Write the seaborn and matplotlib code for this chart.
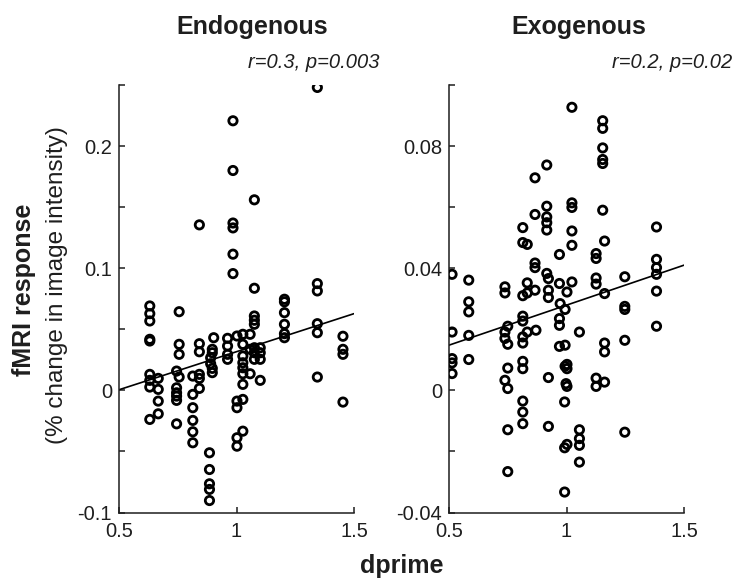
import numpy as np
import pandas as pd
import matplotlib
matplotlib.use("Agg")
import matplotlib.pyplot as plt
import seaborn as sns

# ---------------- data ----------------
endo_x = [1.344, 0.985, 0.985, 1.076, 0.842, 0.985, 0.985, 0.985, 0.985, 1.076, 1.344, 1.344, 1.204,
          0.631, 0.631, 0.631, 0.631, 0.631, 0.631, 0.631, 0.631, 0.631,
          0.667, 0.667, 0.667, 0.667,
          0.745, 0.745, 0.745, 0.745, 0.745, 0.745,
          0.756, 0.756, 0.756, 0.756,
          0.814, 0.814, 0.814, 0.814, 0.814, 0.814,
          0.842, 0.842, 0.842, 0.842, 0.842,
          0.903, 0.897, 0.897, 0.890, 0.890, 0.897, 0.897,
          0.885, 0.885, 0.885, 0.885, 0.885,
          0.962, 0.962, 0.962, 0.962,
          1.002, 1.002, 1.002, 1.002, 1.002,
          1.027, 1.027, 1.027, 1.027, 1.027, 1.027, 1.027, 1.027, 1.027,
          1.058, 1.058, 1.058,
          1.076, 1.076, 1.076, 1.076, 1.076, 1.076,
          1.101, 1.101, 1.101, 1.101,
          1.204, 1.204, 1.204, 1.204, 1.204,
          1.344, 1.344, 1.344,
          1.453, 1.453, 1.453, 1.453]
endo_y = [0.248, 0.2207, 0.180, 0.156, 0.1355, 0.137, 0.133, 0.1115, 0.0956, 0.0836, 0.0874, 0.0814, 0.0746,
          0.0691, 0.0628, 0.0568, 0.0418, 0.0404, 0.0131, 0.0082, 0.0027, -0.0238,
          0.0098, 0.0008, -0.0088, -0.0192,
          0.0158, 0.0021, -0.002, -0.0047, -0.0082, -0.0274,
          0.0644, 0.0377, 0.0295, 0.0109,
          0.0117, -0.0033, -0.0142, -0.0246, -0.0339, -0.0429,
          0.0382, 0.0316, 0.0131, 0.0098, 0.0016,
          0.0431, 0.0336, 0.0308, 0.0267, 0.0218, 0.018, 0.0145,
          -0.0511, -0.0648, -0.0765, -0.0811, -0.0902,
          0.0426, 0.0363, 0.0295, 0.0254,
          0.0445, -0.0088, -0.0142, -0.0388, -0.0457,
          0.0459, 0.0377, 0.0281, 0.0226, 0.0185, 0.0136, 0.0049, -0.0074, -0.0334,
          0.0459, 0.0336, 0.0136,
          0.0609, 0.0574, 0.0541, 0.0349, 0.0308, 0.0254,
          0.0349, 0.0308, 0.0254, 0.0082,
          0.0725, 0.0636, 0.0541, 0.0464, 0.0431,
          0.0546, 0.0472, 0.0109,
          0.0443, 0.0336, 0.0295, -0.0096]

exo_x = [1.023, 1.154, 1.154, 1.154, 1.154, 1.154, 0.916, 0.866, 0.916, 1.023, 1.023, 1.154, 0.866,
         0.916, 0.916, 0.916, 0.814, 1.023, 1.383, 0.814, 0.833, 1.023, 1.162, 0.970, 1.126, 1.126,
         0.866, 0.866, 1.383, 1.383, 1.383, 0.513, 0.584, 0.916, 0.923, 0.970, 1.023, 1.248, 1.126,
         1.126, 0.738, 0.738, 0.833, 0.833, 0.866, 0.923, 1.002, 1.162, 1.383,
         0.814, 0.923, 0.584, 0.584, 0.513, 0.584, 0.513, 0.513, 0.513, 0.584,
         0.750, 0.738, 0.738, 0.750, 0.814, 0.814, 0.814, 0.814, 0.833, 0.870,
         0.973, 0.994, 0.970, 0.970, 1.055, 1.162, 1.162, 1.248, 1.248, 1.248, 1.383,
         0.970, 0.994, 0.750, 0.814, 0.814, 0.923, 0.994, 1.002, 1.002, 0.998, 1.002,
         0.738, 0.750, 1.126, 1.126, 1.162,
         0.814, 0.814, 0.814, 0.750, 0.923, 0.992, 1.248, 1.055, 1.055, 1.055,
         0.992, 1.002, 1.055, 0.750, 0.992]
exo_y = [0.0927, 0.0883, 0.0858, 0.0794, 0.0756, 0.0743, 0.0738, 0.0696, 0.0603, 0.0614, 0.0599, 0.059, 0.0576,
         0.0568, 0.0549, 0.0525, 0.0533, 0.0522, 0.0535, 0.0484, 0.0478, 0.0475, 0.0489, 0.0445, 0.0448, 0.0432,
         0.0417, 0.0402, 0.0429, 0.0402, 0.038, 0.038, 0.0361, 0.0383, 0.0366, 0.035, 0.0355, 0.0372, 0.0368,
         0.0348, 0.0339, 0.0319, 0.0352, 0.0319, 0.0328, 0.0328, 0.0322, 0.0317, 0.0325,
         0.031, 0.0304, 0.029, 0.0257, 0.0191, 0.018, 0.0104, 0.009, 0.0055, 0.0101,
         0.021, 0.0191, 0.017, 0.0151, 0.0243, 0.0227, 0.0175, 0.0155, 0.0191, 0.0197,
         0.0284, 0.0265, 0.0235, 0.0213, 0.0191, 0.0155, 0.0126, 0.0275, 0.0265, 0.0164, 0.021,
         0.0144, 0.0148, 0.0073, 0.0095, 0.0071, 0.0042, 0.0079, 0.0085, 0.0071, 0.0022, 0.0013,
         0.0033, 0.0006, 0.004, 0.0013, 0.0027,
         -0.0035, -0.0071, -0.0109, -0.0129, -0.0118, -0.0038, -0.0137, -0.0129, -0.0158, -0.018,
         -0.0188, -0.0177, -0.0235, -0.0266, -0.0333]

# fitted regression lines as drawn in the reference (end points)
fit_x = [0.5, 1.5]
endo_fit_y = [0.0005, 0.0628]
exo_fit_y = [0.0148, 0.0410]

titles = ["Endogenous", "Exogenous"]
stats = ["r=0.3, p=0.003", "r=0.2, p=0.02"]
x_ticks = [0.5, 1.0, 1.5]
x_ticklabels = ["0.5", "1", "1.5"]
endo_yticks = [-0.1, -0.05, 0, 0.05, 0.1, 0.15, 0.2, 0.25]
endo_ylabels = ["-0.1", "", "0", "", "0.1", "", "0.2", ""]
exo_yticks = [-0.04, -0.02, 0, 0.02, 0.04, 0.06, 0.08, 0.1]
exo_ylabels = ["-0.04", "", "0", "", "0.04", "", "0.08", ""]

# ---------------- style ----------------
sns.set_theme(style="white")
plt.rcParams["font.family"] = ["Liberation Sans", "DejaVu Sans"]
ink = "#1e1e1e"

W, H = 736, 579
fig = plt.figure(figsize=(W / 100, H / 100), dpi=100)

def fx(px):
    return px / W

def fy(py):
    return 1 - py / H

ax_top, ax_bot = 85, 512.5
axL = fig.add_axes([fx(119), fy(ax_bot), fx(235), (ax_bot - ax_top) / H])
axR = fig.add_axes([fx(449), fy(ax_bot), fx(235), (ax_bot - ax_top) / H])

panels = [
    (axL, endo_x, endo_y, endo_fit_y, (-0.1, 0.25), endo_yticks, endo_ylabels),
    (axR, exo_x, exo_y, exo_fit_y, (-0.04, 0.1), exo_yticks, exo_ylabels),
]

for ax, xs, ys, fys, ylim, yt, ytl in panels:
    df = pd.DataFrame({"dprime": xs, "resp": ys})
    fit = pd.DataFrame({"dprime": fit_x, "resp": fys})
    sns.lineplot(data=fit, x="dprime", y="resp", ax=ax, color="black",
                 linewidth=1.2, zorder=2)
    sns.scatterplot(data=df, x="dprime", y="resp", ax=ax, marker="o", s=36,
                    facecolor="none", edgecolor="black", linewidth=2.0, zorder=3)
    ax.set_xlim(0.5, 1.5)
    ax.set_ylim(*ylim)
    ax.set_xticks(x_ticks)
    ax.set_xticklabels(x_ticklabels)
    ax.set_yticks(yt)
    ax.set_yticklabels(ytl)
    ax.set_xlabel("")
    ax.set_ylabel("")
    for s in ["top", "right"]:
        ax.spines[s].set_visible(False)
    for s in ["left", "bottom"]:
        ax.spines[s].set_color(ink)
        ax.spines[s].set_linewidth(1.1)
    ax.tick_params(direction="in", length=4, width=1.1, colors=ink,
                   labelsize=14.5, labelcolor=ink, left=True, bottom=True)
    ax.tick_params(axis="x", pad=7)
    ax.tick_params(axis="y", pad=5)
    ax.patch.set_alpha(0)

# titles & annotations
fig.text(fx(252), fy(27), titles[0], ha="center", va="center",
         fontsize=18, fontweight="bold", color=ink)
fig.text(fx(579), fy(27), titles[1], ha="center", va="center",
         fontsize=18, fontweight="bold", color=ink)
fig.text(fx(380), fy(63), stats[0], ha="right", va="center",
         fontsize=14.5, style="italic", color=ink)
fig.text(fx(732), fy(63), stats[1], ha="right", va="center",
         fontsize=14.5, style="italic", color=ink)

fig.text(fx(24), fy(290), "fMRI response", rotation=90, ha="center", va="center",
         fontsize=18, fontweight="bold", color=ink)
fig.text(fx(57), fy(285), "(% change in image intensity)", rotation=90,
         ha="center", va="center", fontsize=17.5, color=ink)
fig.text(fx(401.5), fy(566), "dprime", ha="center", va="center",
         fontsize=18, fontweight="bold", color=ink)

fig.savefig("out.png", dpi=100, facecolor="white")
